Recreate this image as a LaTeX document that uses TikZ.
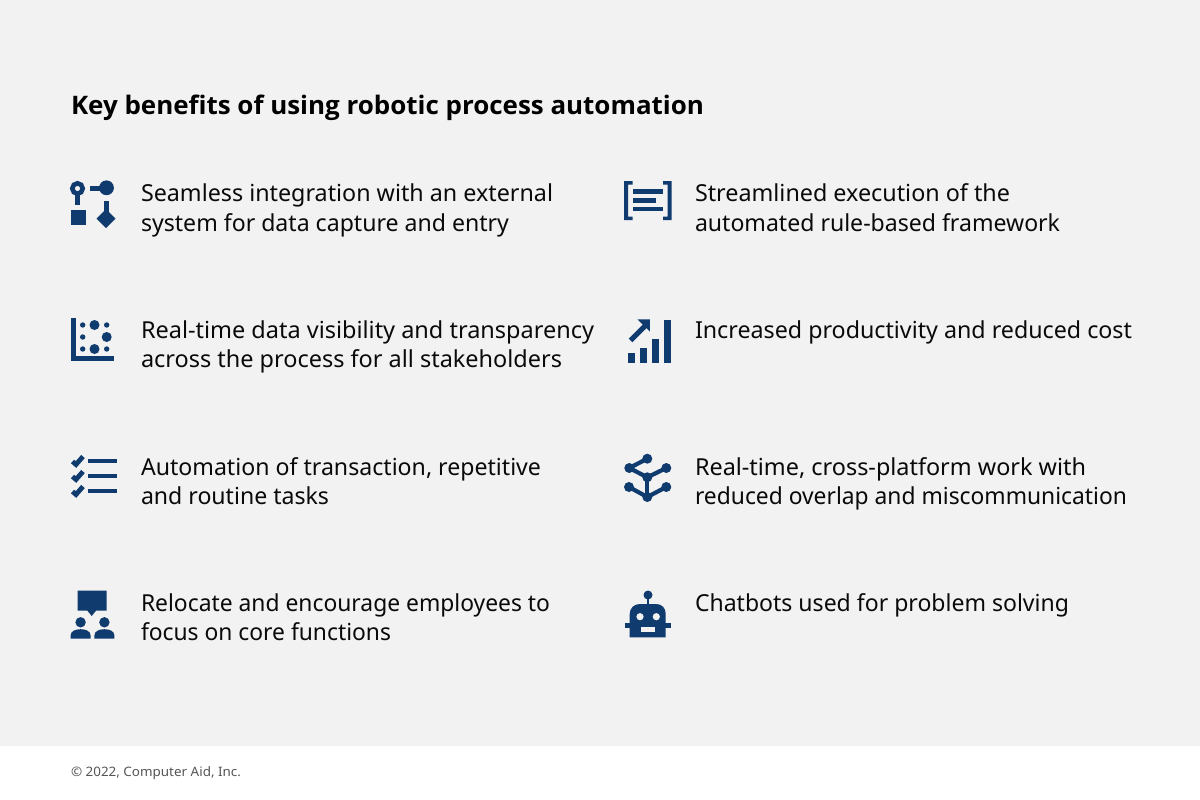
\documentclass[tikz,border=0pt]{standalone}
\usepackage{graphicx}
\usepackage{fontspec}
\setmainfont{Noto Sans}
\newfontfamily\ttlfont{Open Sans}
\definecolor{pagebg}{HTML}{F2F2F2}
\definecolor{iconblue}{HTML}{0F3B6E}
\definecolor{inktext}{HTML}{0A0A0A}
\definecolor{foottext}{HTML}{555555}
\newcommand{\fitw}[2]{\resizebox{#1pt}{\height}{#2}}
\tikzset{
  ico/.style={fill=iconblue,draw=none},
  icol/.style={draw=iconblue,line width=5pt},
  icot/.style={draw=iconblue,line width=4.8pt},
  body/.style={anchor=base west,inner sep=0pt,outer sep=0pt,text=inktext,font=\fontsize{23.4}{28}\selectfont},
  ttl/.style={anchor=base west,inner sep=0pt,outer sep=0pt,text=black,font=\ttlfont\bfseries\fontsize{25.5}{30}\selectfont},
  foot/.style={anchor=base west,inner sep=0pt,outer sep=0pt,text=foottext,font=\fontsize{13}{16}\selectfont}
}
\begin{document}
\begin{tikzpicture}[x=1pt,y=-1pt]
\useasboundingbox (0,0) rectangle (1200,800);
\fill[white] (0,0) rectangle (1200,800);
\fill[pagebg] (0,0) rectangle (1200,746);
\node[ttl] (title) at (71,114) {\fitw{633}{Key benefits of using robotic process automation}};
\node[body] (t1a) at (141,201) {\fitw{412}{Seamless integration with an external}};
\node[body] (t1b) at (141,231) {\fitw{368}{system for data capture and entry}};
\node[body] (t2a) at (141,338) {\fitw{453}{Real-time data visibility and transparency}};
\node[body] (t2b) at (141,367) {\fitw{421}{across the process for all stakeholders}};
\node[body] (t3a) at (141,475) {\fitw{400}{Automation of transaction, repetitive}};
\node[body] (t3b) at (141,504) {\fitw{188}{and routine tasks}};
\node[body] (t4a) at (141,611) {\fitw{409}{Relocate and encourage employees to}};
\node[body] (t4b) at (141,640) {\fitw{250}{focus on core functions}};
\node[body] (t5a) at (695,201) {\fitw{315}{Streamlined execution of the}};
\node[body] (t5b) at (695,231) {\fitw{365}{automated rule-based framework}};
\node[body] (t6a) at (695,338) {\fitw{437}{Increased productivity and reduced cost}};
\node[body] (t7a) at (695,475) {\fitw{391}{Real-time, cross-platform work with}};
\node[body] (t7b) at (695,504) {\fitw{432}{reduced overlap and miscommunication}};
\node[body] (t8a) at (695,611) {\fitw{374}{Chatbots used for problem solving}};
\node[foot] (copy) at (71,776) {\fitw{170}{© 2022, Computer Aid, Inc.}};
% icon 1
\draw[iconblue,line width=4.6pt] (77.5,188.5) circle (5.2);
\draw[icol] (77.5,194) -- (77.5,205);
\draw[icol] (90,188) -- (106,188);
\fill[ico] (106.5,187.8) circle (7.4);
\fill[ico] (70.7,210) rectangle (86,224.5);
\draw[icol] (106,201) -- (106,214);
\fill[ico] (106,209) -- (115.5,218.5) -- (106,228) -- (96.5,218.5) -- cycle;
% icon 2
\fill[ico] (70.7,317.7) rectangle (75.7,361);
\fill[ico] (70.7,356) rectangle (114.3,361);
\fill[ico] (82.7,325) circle (2.7) (82.7,337) circle (2.7) (82.7,349) circle (2.7)
  (106.7,325) circle (2.7) (106.7,349) circle (2.7)
  (94.5,325) circle (5) (94.5,349) circle (5) (106.7,337) circle (5);
% icon 3
\foreach \y in {461,476,491}{
  \draw[icot] (72.5,\y+0.5) -- (76,\y+3.5) -- (83,\y-4.5);
  \fill[ico] (87.7,\y-2.4) rectangle (116.7,\y+2.4);
}
% icon 4
\fill[ico] (77.7,590.7) -- (106.7,590.7) -- (106.7,610.7) -- (96,610.7) -- (91.7,616) -- (87.4,610.7) -- (77.7,610.7) -- cycle;
\foreach \x in {80.6,104.4}{
  \fill[ico] (\x,622.3) circle (5.2);
  \fill[ico] (\x-10,638.5) -- (\x-10,635.5) .. controls (\x-10,631) and (\x-5,629.2) .. (\x,629.2) .. controls (\x+5,629.2) and (\x+10,631) .. (\x+10,635.5) -- (\x+10,638.5) -- cycle;
}
% icon 5
\fill[ico] (624,181) rectangle (632.7,184.5) (624,181) rectangle (628,220) (624,216.5) rectangle (632.7,220);
\fill[ico] (671.5,181) rectangle (663,184.5) (671.5,181) rectangle (667.5,220) (671.5,216.5) rectangle (663,220);
\fill[ico] (633,189.3) rectangle (663,194);
\fill[ico] (633,198.2) rectangle (656.3,202.5);
\fill[ico] (633,206.7) rectangle (663,211.3);
% icon 6
\fill[ico] (628,353.3) rectangle (635.3,362.7);
\fill[ico] (640,348.3) rectangle (647.3,362.7);
\fill[ico] (652,338.7) rectangle (659.3,362.7);
\fill[ico] (664,320) rectangle (671.3,362.7);
\draw[iconblue,line width=5.2pt] (630.5,340.5) -- (646,325);
\fill[ico] (637.5,319.3) -- (649.8,319.3) -- (649.8,331.5) -- cycle;
% icon 7
\draw[iconblue,line width=4.2pt] (647.3,458.7) -- (629.3,468) -- (647.3,477.3) -- (666.3,468);
\draw[iconblue,line width=4.2pt] (647.3,477.3) -- (647.3,497);
\draw[iconblue,line width=4.2pt] (629,487) -- (647.3,497) -- (666.3,487);
\fill[ico] (647.3,458.7) circle (5) (629.3,468) circle (5) (666.3,468) circle (5)
  (647.3,477.3) circle (5) (629,487) circle (5) (666.3,487) circle (5) (647.3,497) circle (5);
% icon 8
\fill[ico] (648,595) circle (4.5);
\fill[ico] (646.7,598) rectangle (649.3,606);
\fill[ico] (629.7,637.3) -- (629.7,614) .. controls (629.7,608) and (634,604) .. (640,604) -- (656,604) .. controls (662,604) and (665.7,608) .. (665.7,614) -- (665.7,637.3) -- cycle;
\fill[ico] (625,622.7) rectangle (671.3,627.7);
\fill[pagebg] (640,616.7) circle (3.6) (656.3,616.7) circle (3.6);
\fill[pagebg] (641.3,627.3) rectangle (654.5,632.3);
\end{tikzpicture}
\end{document}
